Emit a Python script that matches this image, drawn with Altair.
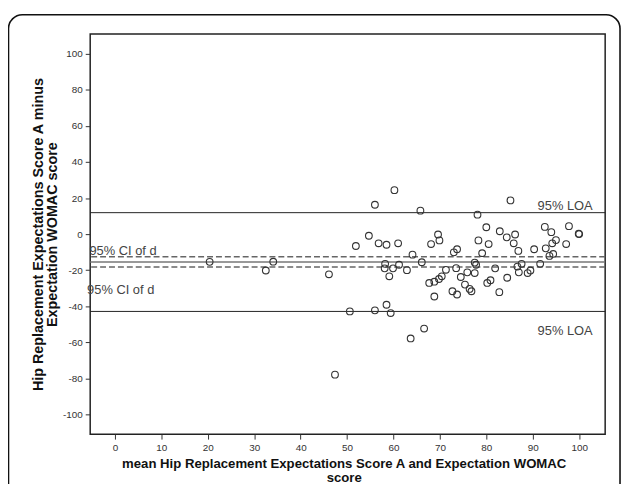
import altair as alt
import pandas as pd

# Bland-Altman data: mean of the two scores (x) and difference (y)
mean_score = [
    20.4, 32.5, 34.1, 46.1, 47.4, 50.6, 51.9, 54.7, 56.0, 56.0,
    56.8, 58.5, 58.5, 59.4, 60.2, 61.0, 58.2, 58.1, 59.9, 61.2,
    62.9, 59.1, 63.7, 64.1, 65.8, 66.1, 66.6, 67.7, 68.1, 68.8,
    68.8, 69.6, 69.9, 70.4, 69.8, 71.3, 72.7, 73.0, 73.7, 73.5,
    73.7, 74.5, 75.4, 75.9, 76.4, 76.8, 77.5, 77.8, 77.5, 78.1,
    78.3, 79.1, 80.0, 80.5, 80.2, 80.9, 81.9, 82.8, 82.9, 84.4,
    84.5, 85.2, 85.9, 86.2, 86.9, 86.7, 87.6, 87.0, 88.9, 89.5,
    90.3, 91.6, 92.6, 92.8, 93.6, 94.0, 94.4, 94.2, 95.0, 97.2,
    97.8, 99.9, 100.0,
]
diff_score = [
    -15.4, -20.2, -15.3, -22.3, -78.0, -42.9, -6.6, -0.9, 16.3, -42.3,
    -5.1, -5.9, -39.2, -43.8, 24.4, -5.1, -16.5, -19.0, -19.0, -17.0,
    -20.0, -23.4, -57.9, -11.4, 13.0, -15.6, -52.4, -27.1, -5.5, -26.4,
    -34.6, -0.2, -3.5, -23.4, -24.9, -19.8, -31.7, -10.1, -8.4, -18.9,
    -33.5, -23.8, -28.0, -21.2, -30.4, -31.7, -15.8, -17.0, -21.6, 10.8,
    -3.5, -10.6, 3.8, -5.5, -27.1, -25.6, -19.0, -32.2, 1.6, -1.8,
    -24.2, 18.7, -5.1, -0.2, -9.3, -18.0, -16.5, -21.2, -21.6, -20.2,
    -8.4, -16.5, 4.0, -7.9, -12.1, 1.1, -11.0, -5.1, -3.3, -5.5,
    4.4, 0.2, 0.0,
]

# reference lines
loa_values = [11.9, -42.9]
mean_diff = [-15.5]
ci_values = [-12.6, -18.3]

# annotations
ann_text = ["95% LOA", "95% LOA"]
ann_x = [102.9, 102.9]
ann_y = [13.3, -56.0]
ci_text = ["95% CI of d", "95% CI of d"]
ci_x = [-5.5, -6.0]
ci_y = [-9.4, -31.3]

y_ticks = [-100, -80, -60, -40, -20, 0, 20, 40, 60, 80, 100]
x_ticks = [0, 10, 20, 30, 40, 50, 60, 70, 80, 90, 100]

FONT = "Liberation Sans"

pts = pd.DataFrame({"m": mean_score, "d": diff_score})
loa = pd.DataFrame({"v": loa_values})
mn = pd.DataFrame({"v": mean_diff})
ci = pd.DataFrame({"v": ci_values})
ann = pd.DataFrame({"t": ann_text, "x": ann_x, "y": ann_y})
cia = pd.DataFrame({"t": ci_text, "x": ci_x, "y": ci_y})

xscale = alt.Scale(domain=[-5.33, 105.6], nice=False, zero=False)
yscale = alt.Scale(domain=[-111, 111], nice=False, zero=False)

xaxis = alt.Axis(
    values=x_ticks,
    title=["mean Hip Replacement Expectations Score A and Expectation WOMAC", "score"],
    titleX=256, titleY=33.5, titleAlign="center", titleBaseline="alphabetic",
    titleLineHeight=14, titleFontSize=13.3, labelPadding=4,
    labelExpr="'' + datum.value",
)
yaxis = alt.Axis(
    values=y_ticks,
    title=["Hip Replacement Expectations Score A minus", "Expectation WOMAC score"],
    titleX=-48, titleY=202, titleAlign="center", titleBaseline="alphabetic",
    titleAngle=-90, titleLineHeight=13.5, titleFontSize=14.5, labelPadding=3,
    labelExpr="'' + datum.value",
)

frame = alt.Chart(pd.DataFrame({"k": [0]})).mark_rect(
    fillOpacity=0, stroke="#111", strokeWidth=1.6, cornerRadius=14
).encode(
    x=alt.value(-82.5), x2=alt.value(535), y=alt.value(-19.5), y2=alt.value(470)
)

loa_rule = alt.Chart(loa).mark_rule(color="#222", strokeWidth=1).encode(
    y=alt.Y("v:Q", scale=yscale, axis=yaxis)
)
mean_rule = alt.Chart(mn).mark_rule(color="#777", strokeWidth=1.6).encode(
    y=alt.Y("v:Q", scale=yscale)
)
ci_rule = alt.Chart(ci).mark_rule(color="#666", strokeWidth=1.5, strokeDash=[6, 3]).encode(
    y=alt.Y("v:Q", scale=yscale)
)

points = alt.Chart(pts).mark_point(
    shape="circle", filled=False, size=46, color="#333", strokeWidth=1.1, opacity=1
).encode(
    x=alt.X("m:Q", scale=xscale, axis=xaxis),
    y=alt.Y("d:Q", scale=yscale),
)

ann_layer = alt.Chart(ann).mark_text(
    align="right", baseline="alphabetic", font=FONT, fontSize=13, color="#444"
).encode(
    x=alt.X("x:Q", scale=xscale), y=alt.Y("y:Q", scale=yscale), text="t:N"
)
ci_layer = alt.Chart(cia).mark_text(
    align="left", baseline="middle", font=FONT, fontSize=13, color="#444"
).encode(
    x=alt.X("x:Q", scale=xscale), y=alt.Y("y:Q", scale=yscale), text="t:N"
)

chart = alt.layer(
    frame, loa_rule, mean_rule, ci_rule, points, ann_layer, ci_layer
).properties(
    width=520, height=404,
    autosize=alt.AutoSizeParams(type="none"),
    padding={"left": 83, "top": 24, "right": 17, "bottom": 48},
    background="white",
).configure_view(
    stroke="#222", strokeWidth=1.5
).configure_axis(
    grid=False, domain=False, ticks=True, tickColor="#333", tickSize=5,
    labelFont=FONT, labelFontSize=10, labelColor="#333",
    titleFont=FONT, titleFontWeight="bold", titleColor="#111",
)

chart.save("out.html", embed_options={"renderer": "svg", "actions": False})
